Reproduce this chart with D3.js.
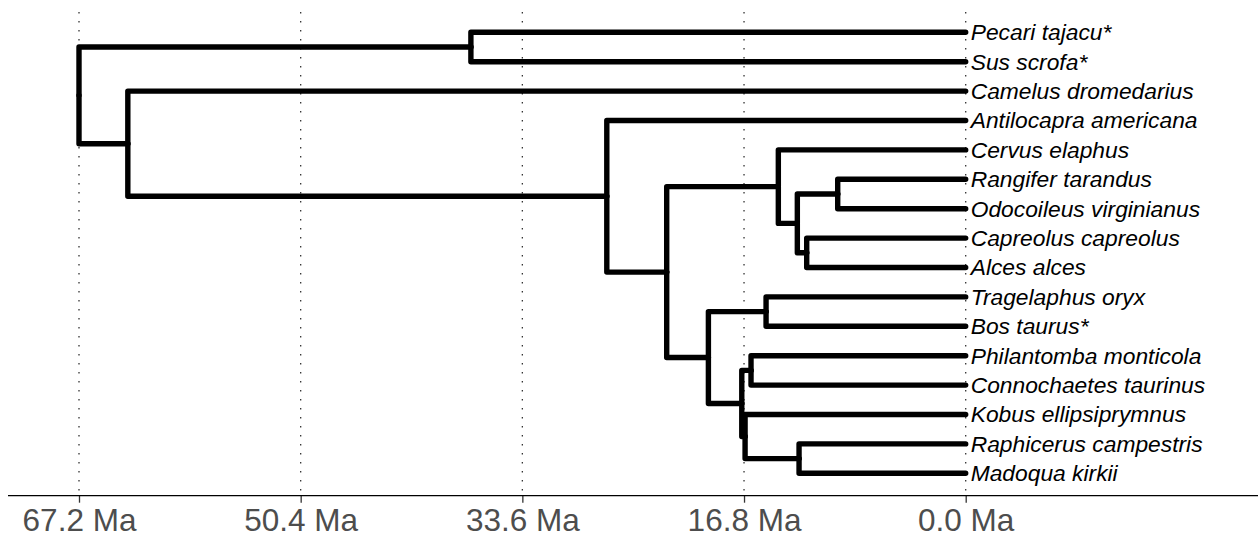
<!DOCTYPE html>
<html><head><meta charset="utf-8">
<script src="https://cdn.jsdelivr.net/npm/d3@7"></script>
<style>body{margin:0;background:#fff}svg{display:block}</style>
</head><body>
<svg id="c" width="1258" height="538"></svg>
<script>
const tipLabels = ["Pecari tajacu*","Sus scrofa*","Camelus dromedarius","Antilocapra americana","Cervus elaphus","Rangifer tarandus","Odocoileus virginianus","Capreolus capreolus","Alces alces","Tragelaphus oryx","Bos taurus*","Philantomba monticola","Connochaetes taurinus","Kobus ellipsiprymnus","Raphicerus campestris","Madoqua kirkii"];
const tipParent = ["Suina","Suina","CamRum","Ruminantia","Cervidae","RangOdo","RangOdo","CapAlc","CapAlc","Bovini","Bovini","PhilConn","PhilConn","N2","RaphMad","RaphMad"];
const nodeNames = ["root","Suina","CamRum","Ruminantia","Pecora","Cervidae","Cervinae","RangOdo","CapAlc","Bovidae","Bovini","N1","PhilConn","N2","RaphMad"];
const nodeParent = [null,"root","root","CamRum","Ruminantia","Pecora","Cervidae","Cervinae","Cervinae","Pecora","Bovidae","Bovidae","N1","N1","N2"];
const nodeAges = [67.2,37.5,63.5,27.2,22.66,14.2,12.76,9.7,12.05,19.5,15.13,16.97,16.27,16.72,12.63];
const tickValues = [67.2,50.4,33.6,16.8,0.0];

const rows = nodeNames.map((n,i)=>({id:n,parent:nodeParent[i],age:nodeAges[i],label:null,tip:-1}))
  .concat(tipLabels.map((t,i)=>({id:"tip"+i,parent:tipParent[i],age:0,label:t,tip:i})));
const root = d3.stratify().id(d=>d.id).parentId(d=>d.parent)(rows);
root.eachAfter(n=>{
  if(!n.children){n.yi=n.data.tip;n.minTip=n.data.tip;}
  else{
    n.children.sort((a,b)=>a.minTip-b.minTip);
    n.minTip=d3.min(n.children,c=>c.minTip);
    n.yi=d3.mean(n.children,c=>c.yi);
  }
});

const svg=d3.select("#c");
const x=d3.scaleLinear().domain([67.2,0]).range([79,965.7]);
const y=d3.scaleLinear().domain([0,tipLabels.length-1]).range([32.3,473.3]);
const axisY=495.7;

// grid
svg.append("g").selectAll("line").data(tickValues).join("line")
  .attr("x1",d=>x(d)).attr("x2",d=>x(d)).attr("y1",12).attr("y2",axisY)
  .attr("stroke","#333").attr("stroke-width",1.3).attr("stroke-dasharray","1.4 7.6");

// branches
const links=root.links();
svg.append("g").selectAll("path").data(links).join("path")
  .attr("d",l=>`M${x(l.source.data.age)},${y(l.source.yi)}V${y(l.target.yi)}H${x(l.target.data.age)}`)
  .attr("fill","none").attr("stroke","#000").attr("stroke-width",5.4)
  .attr("stroke-linecap","round").attr("stroke-linejoin","round");

// tip labels
svg.append("g").selectAll("text").data(root.leaves()).join("text")
  .attr("x",x(0)+5).attr("y",d=>y(d.yi)).attr("dy","0.35em")
  .attr("font-family","Liberation Sans, Arial, sans-serif").attr("font-style","italic")
  .attr("font-size",22.8).attr("fill","#000").text(d=>d.data.label);

// axis
const ax=svg.append("g").attr("transform",`translate(0,${axisY})`)
  .call(d3.axisBottom(x).tickValues(tickValues).tickSize(7).tickSizeOuter(0).tickPadding(6)
  .tickFormat(d=>d3.format(".1f")(d)+" Ma"));
ax.select(".domain").remove();
ax.selectAll(".tick line").attr("stroke","#333").attr("stroke-width",1.3);
ax.selectAll(".tick text").attr("font-family","Liberation Sans, Arial, sans-serif")
  .attr("font-size",31.5).attr("fill","#4d4d4d");
svg.append("line").attr("x1",8).attr("x2",1258).attr("y1",axisY).attr("y2",axisY)
  .attr("stroke","#000").attr("stroke-width",1.3);
</script>
</body></html>
